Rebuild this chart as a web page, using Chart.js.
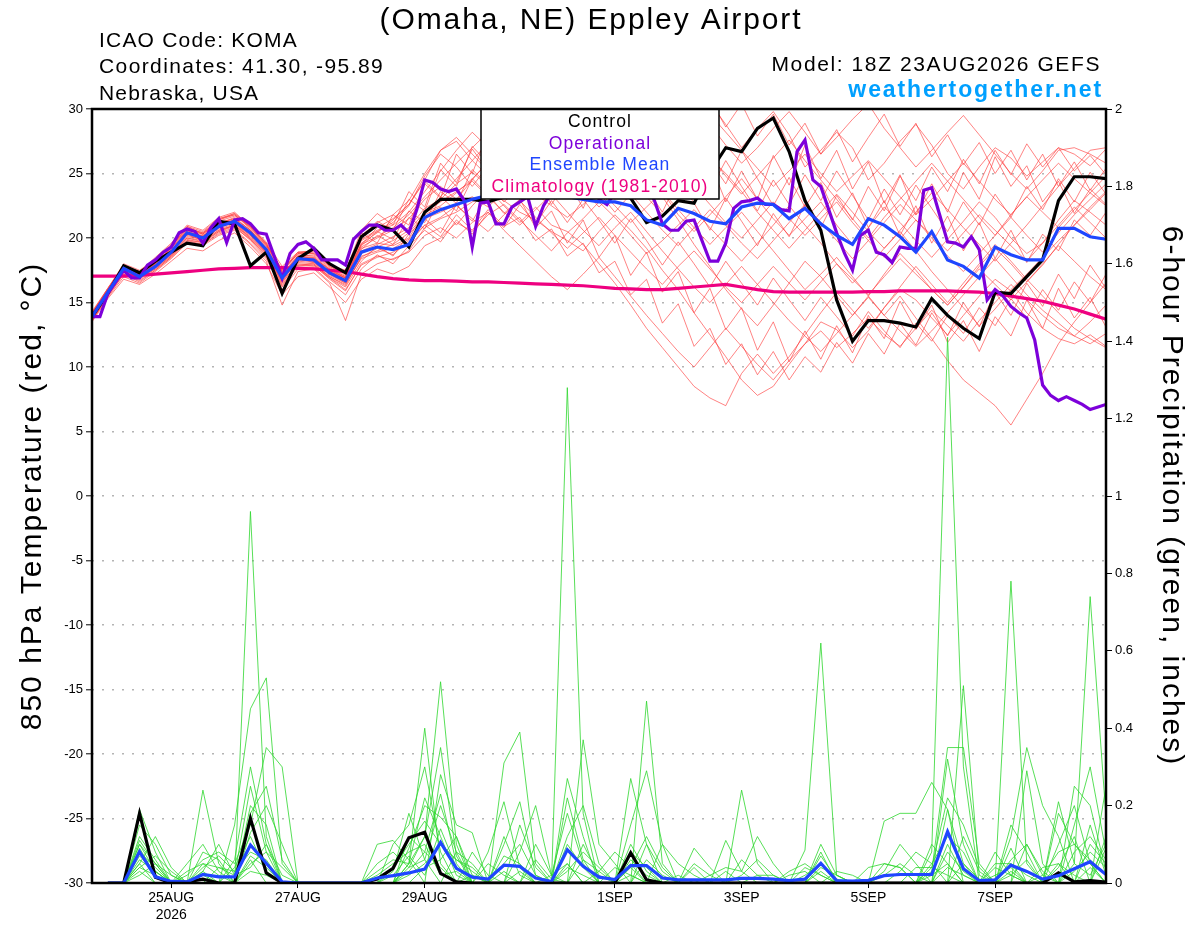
<!DOCTYPE html>
<html><head><meta charset="utf-8">
<script src="https://cdn.jsdelivr.net/npm/chart.js@4.4.1/dist/chart.umd.min.js"></script>
<style>html,body{margin:0;padding:0;background:#fff;overflow:hidden}canvas{display:block}</style>
</head><body>
<canvas id="c" width="1200" height="927" style="width:1200px;height:927px"></canvas>
<script>
// ---------- time axis (6-hourly steps from 18Z 23AUG2026) ----------
const xTickIdx = [5, 13, 21, 33, 41, 49, 57];
const xTickLabels = [['25AUG', '2026'], '27AUG', '29AUG', '1SEP', '3SEP', '5SEP', '7SEP'];

// ---------- 850 hPa temperature (°C), 6-hourly ----------
const ctlTemp = [13.9,15.7,17.85,17.3,18.2,18.9,19.6,19.4,21.3,21.1,
 17.85,18.9,15.7,18.4,19.2,18.0,17.3,20.1,21.0,20.6,
 19.3,22.0,23.0,23.0,23.0,22.8,23.2,23.8,24.5,25.5,
 24.8,24.0,24.8,24.0,23.1,21.2,21.7,22.9,22.7,25.1,
 27.0,26.7,28.5,29.3,26.7,22.9,20.6,15.2,12.0,13.6,
 13.6,13.4,13.1,15.3,14.0,13.0,12.2,15.8,15.7,17.0,
 18.3,22.9,24.75,24.75,24.6];
const meanTemp = [13.9,15.8,17.65,17.0,17.8,18.9,20.4,20.0,20.9,21.3,
 20.4,19.1,16.9,18.4,18.3,17.3,16.7,18.9,19.3,19.1,
 19.5,21.6,22.2,22.6,23.0,23.3,23.5,23.6,23.5,23.4,
 23.2,23.0,22.8,22.8,22.5,21.4,21.0,22.3,21.9,21.3,
 21.1,22.4,22.7,22.6,21.5,22.3,21.1,20.2,19.5,21.5,
 21.0,20.1,18.9,20.5,18.3,17.8,16.9,19.3,18.7,18.3,
 18.3,20.75,20.75,20.1,19.9];
const climTemp = [17.05,17.05,17.05,17.1,17.2,17.3,17.4,17.5,17.6,17.65,
 17.7,17.7,17.7,17.65,17.6,17.5,17.4,17.2,17.0,16.85,
 16.75,16.7,16.7,16.65,16.6,16.6,16.55,16.5,16.45,16.4,
 16.35,16.3,16.2,16.1,16.05,16.0,16.0,16.1,16.2,16.3,
 16.4,16.2,16.0,15.85,15.8,15.8,15.8,15.8,15.8,15.85,
 15.85,15.9,15.9,15.9,15.9,15.85,15.8,15.7,15.5,15.3,
 15.1,14.8,14.5,14.1,13.7];
// operational run, 3-hourly
const opTemp3h = [13.9,13.9,15.7,16.6,17.5,16.9,16.9,17.9,18.3,18.9,
 19.3,20.4,20.7,20.5,19.6,20.8,21.5,19.65,21.4,21.5,
 21.1,20.4,20.3,18.6,16.9,18.8,19.5,19.7,19.2,18.3,
 18.3,18.3,17.9,19.9,20.5,21.0,21.0,20.6,20.6,21.0,
 20.4,22.2,24.5,24.3,23.8,23.6,23.8,22.9,19.3,22.7,
 22.8,21.1,21.1,22.4,22.8,23.2,20.9,22.5,23.5,24.0,
 24.5,25.0,25.5,25.0,23.0,22.6,23.5,24.5,25.0,24.5,
 24.0,22.9,21.1,20.6,20.6,21.3,21.4,19.8,18.2,18.2,
 19.6,22.3,22.8,22.9,23.1,22.6,22.6,22.2,22.1,26.7,
 27.6,24.5,24.0,22.2,20.4,18.8,17.5,20.2,20.6,18.9,
 18.7,18.1,19.3,19.2,19.2,23.7,23.9,21.8,19.7,19.6,
 19.3,20.1,19.1,15.2,16.0,15.5,14.7,14.2,13.8,12.1,
 8.6,7.8,7.4,7.7,7.4,7.1,6.7,6.9,7.1];

// ensemble members (temperature)
const ensTemp01 = [14.2,16.0,17.9,17.4,18.5,19.6,21.0,20.6,21.6,22.0,20.9,19.5,17.5,18.9,19.0,18.0,17.2,
 19.5,20.8,21.5,22.6,24.5,26.8,27.5,26.0,24.8,25.9,27.2,28.5,29.6,
 28.0,26.5,27.8,29.5,30.5,28.2,26.0,27.5,29.0,30.5,28.8,27.0,28.5,29.8,28.0,
 25.5,26.8,28.2,27.0,24.5,25.8,27.5,28.8,27.2,25.0,23.8,25.5,27.0,26.2,24.8,25.9,27.0,26.5,25.6,26.9];
const ensTemp02 = [13.6,15.5,17.2,16.6,17.5,18.5,19.8,19.5,20.4,20.8,19.9,18.6,16.2,17.8,17.9,16.8,15.9,
 18.0,18.6,18.3,19.0,20.8,21.5,22.0,22.8,23.5,22.9,22.0,21.4,20.5,
 19.8,19.0,20.5,21.8,20.6,19.2,17.5,16.0,14.2,12.5,10.8,9.0,7.8,8.5,10.2,
 11.8,13.5,12.9,11.5,12.8,14.6,16.0,15.2,13.8,12.5,14.0,15.5,16.8,15.9,14.2,13.0,12.2,11.8,12.5,11.6];
const ensTemp03 = [14.0,15.9,17.7,17.1,18.0,19.0,20.5,20.1,21.0,21.4,20.5,19.2,17.1,18.5,18.5,17.5,16.9,
 19.2,19.6,19.4,20.0,22.0,22.5,23.5,24.6,25.8,24.2,23.0,23.8,24.9,
 26.0,25.1,23.5,22.0,23.4,24.8,23.6,21.8,20.5,21.8,23.2,24.6,23.0,21.5,20.2,
 21.5,22.8,21.0,19.5,20.8,22.4,21.2,19.8,18.5,19.9,21.3,22.8,21.6,20.0,18.8,19.6,21.4,22.9,22.0,21.0];
const ensTemp04 = [13.8,15.7,17.8,17.3,18.2,19.3,20.9,20.5,21.5,21.8,20.8,19.4,17.6,18.7,18.6,17.6,17.0,
 19.8,20.5,21.2,22.5,24.8,26.5,25.5,24.0,25.6,27.2,28.6,30.2,30.8,
 30.4,29.2,30.6,28.5,26.8,25.0,23.2,21.4,19.5,17.8,16.0,14.5,13.2,14.8,16.5,
 18.2,17.0,15.5,14.0,15.5,17.2,18.8,17.5,16.0,14.8,16.2,17.8,19.2,18.0,16.6,17.9,19.5,21.0,22.4,23.6];
const ensTemp05 = [13.5,15.3,16.8,16.4,17.2,18.2,19.2,19.0,19.8,20.4,19.3,18.0,15.6,17.0,17.3,16.2,15.0,
 16.8,17.6,17.2,17.8,19.4,20.0,21.2,20.5,21.8,22.6,21.4,20.2,19.0,
 20.4,21.5,22.8,21.6,20.2,18.8,19.8,21.0,22.2,20.8,19.5,18.2,19.6,21.0,22.5,
 21.0,19.6,18.0,16.5,17.8,19.2,20.5,19.0,17.4,16.0,14.6,13.2,14.5,16.0,17.2,18.5,19.8,21.0,22.2,23.5];
const ensTemp06 = [14.1,16.0,17.6,17.2,17.9,19.0,20.3,20.2,20.9,21.2,20.0,18.8,16.5,18.1,18.0,17.0,16.3,
 18.6,19.0,19.5,20.4,21.8,22.4,21.0,22.5,23.8,22.5,21.2,22.4,21.0,
 20.5,19.5,18.0,16.5,14.8,13.0,11.5,10.0,8.5,7.6,7.0,9.5,11.0,9.5,10.8,
 12.5,14.2,15.8,14.4,13.0,14.6,16.2,17.8,16.4,15.0,16.5,18.0,19.5,18.2,16.8,15.5,14.2,13.0,12.2,11.5];
const ensTemp07 = [14.3,16.1,18.0,17.5,18.3,19.4,20.7,20.3,21.3,21.7,20.9,19.7,17.8,18.9,19.0,17.9,17.5,
 20.2,21.2,21.8,22.9,25.0,26.8,27.8,26.5,25.2,26.5,27.9,26.8,25.5,
 24.0,25.5,27.0,28.2,26.9,25.2,26.8,28.5,30.3,28.8,27.2,25.8,27.0,28.5,29.8,
 28.2,26.5,27.8,29.2,30.4,28.5,27.0,25.5,26.8,28.2,29.5,28.0,26.5,25.0,23.8,25.2,26.8,27.0,26.5,25.8];
const ensTemp08 = [13.7,15.6,17.4,16.9,17.7,18.7,20.0,19.7,20.6,21.0,20.1,18.9,16.7,18.2,18.1,17.1,16.5,
 18.4,18.9,19.2,19.9,21.5,22.0,22.6,23.2,22.4,23.6,24.5,23.4,22.5,
 21.6,22.6,23.8,22.5,21.2,22.4,23.6,22.2,20.8,19.5,20.8,22.0,20.5,19.0,17.5,
 16.0,17.2,18.5,17.0,15.5,14.0,15.5,13.8,12.2,10.5,9.0,8.0,7.0,5.5,7.5,9.5,11.8,13.5,15.0,16.5];
const ensTemp09 = [13.9,15.8,17.5,17.0,17.8,18.8,20.1,19.9,20.7,21.1,20.2,19.1,17.0,18.4,18.2,17.2,16.8,
 19.0,19.5,20.1,20.8,22.3,23.0,24.2,25.1,24.0,22.8,23.9,25.0,26.2,
 25.0,23.8,22.4,23.6,24.8,23.2,21.8,22.9,24.0,22.6,21.2,20.0,21.4,22.8,21.5,
 20.2,21.5,22.8,21.2,19.8,18.5,19.9,21.4,20.0,18.6,17.4,18.8,20.2,21.6,20.2,18.9,20.4,21.8,23.0,24.2];
const ensTemp10 = [14.0,16.0,17.9,17.3,18.4,19.4,20.8,20.4,21.4,21.9,20.9,19.6,17.4,18.8,18.9,17.8,17.3,
 19.9,20.6,21.0,22.0,23.6,25.2,26.8,28.2,27.0,25.8,27.0,28.4,29.6,
 28.4,27.0,25.5,26.8,28.0,26.6,25.0,23.5,24.8,26.2,25.0,23.6,22.0,20.6,19.2,
 20.6,22.0,23.4,22.0,20.5,19.2,20.6,22.0,23.5,22.2,20.8,19.5,18.2,19.6,21.0,22.5,24.0,25.4,26.8,27.0];
const ensTemp11 = [13.6,15.4,17.0,16.5,17.4,18.4,19.6,19.4,20.2,20.6,19.5,18.2,14.8,17.4,17.6,16.5,13.6,
 17.2,18.0,18.4,18.9,20.2,20.8,20.0,21.2,22.0,20.6,19.4,18.2,17.0,
 16.0,17.2,18.5,17.0,15.5,14.0,12.6,11.2,10.0,11.5,13.0,11.6,10.2,9.0,10.5,
 11.8,12.8,11.5,12.6,13.8,12.5,11.6,13.0,14.4,13.2,12.0,13.6,15.0,16.4,15.2,14.0,13.0,12.4,13.5,14.8];
const ensTemp12 = [14.1,16.1,17.8,17.4,18.1,19.2,20.6,20.3,21.2,21.5,20.6,19.3,17.2,18.6,18.7,17.7,17.0,
 19.5,20.1,20.8,21.8,23.2,24.5,25.8,27.0,28.2,29.5,28.0,26.5,25.2,
 26.5,27.8,29.0,30.4,28.5,27.0,25.6,27.0,28.4,29.6,28.2,26.8,25.4,24.0,25.2,
 26.5,25.0,23.6,24.8,26.0,24.6,23.2,21.8,23.0,24.4,25.8,24.4,23.0,21.8,23.2,24.5,25.8,24.6,23.5,22.5];
const ensTemp13 = [13.8,15.6,17.3,16.8,17.6,18.6,19.9,19.6,20.5,20.9,19.8,18.5,16.3,17.9,17.8,16.9,16.0,
 17.9,18.5,18.9,19.6,21.0,21.6,22.5,21.5,20.5,21.8,22.9,21.6,20.4,
 19.2,20.4,21.6,20.2,18.9,17.6,16.4,17.8,19.0,17.6,16.2,15.0,16.4,17.8,16.5,
 15.2,16.6,18.0,16.8,15.6,17.0,18.4,17.2,16.0,14.8,16.2,17.6,16.4,15.2,16.6,18.0,19.4,18.2,17.0,16.0];
const ensTemp14 = [14.2,15.9,17.7,17.2,18.2,19.1,20.5,20.1,21.1,21.5,20.6,19.4,17.3,18.6,18.5,17.5,16.9,
 19.3,20.0,20.6,21.5,23.0,24.0,23.0,24.5,26.0,27.5,26.2,24.8,26.4,
 28.0,29.5,28.0,26.5,25.0,26.5,28.0,29.5,28.0,26.4,24.8,23.4,24.8,26.2,27.6,
 26.0,24.5,23.0,21.5,20.0,21.6,23.0,24.4,25.8,24.4,23.0,21.6,20.2,21.8,23.2,22.0,20.8,22.2,23.5,24.8];
const ensTemp15 = [13.7,15.7,17.6,17.1,17.8,18.9,20.2,19.9,20.8,21.2,20.2,18.9,16.8,18.3,18.2,17.2,16.6,
 18.8,19.3,19.8,20.6,22.0,22.8,23.6,24.4,23.2,22.0,21.0,22.2,23.4,
 22.0,20.6,19.4,20.8,22.0,20.5,19.0,17.6,16.2,15.0,16.4,17.8,16.4,15.0,13.6,
 12.4,11.2,12.6,14.0,15.4,14.0,12.8,11.6,12.8,14.2,15.6,17.0,18.4,17.0,15.6,14.4,13.4,12.4,11.8,12.6];
const ensTemp16 = [14.0,15.9,17.8,17.3,18.0,19.1,20.4,20.2,21.0,21.4,20.4,19.0,17.0,18.4,18.4,17.4,16.8,
 19.6,20.4,21.4,22.6,24.4,23.2,24.6,26.0,27.4,26.0,24.6,23.2,24.6,
 23.2,24.8,26.2,24.8,23.4,22.0,20.6,19.4,20.8,22.2,21.0,19.6,18.4,19.8,21.2,
 22.6,21.2,19.8,18.4,19.8,21.2,22.6,21.4,20.2,19.0,20.4,21.8,20.6,19.4,18.2,19.6,21.0,22.4,21.2,20.0];
const ensTemp17 = [13.9,15.9,17.6,17.2,18.1,19.2,20.6,20.0,21.1,21.6,20.6,19.2,17.1,18.6,18.4,17.6,16.9,
 20.4,19.6,21.8,21.0,24.2,23.1,26.5,25.0,28.2,26.6,29.4,27.8,30.3,
 27.5,29.8,26.8,28.9,25.6,27.8,24.5,26.9,23.6,25.9,22.8,25.2,23.0,26.4,24.1,
 27.2,24.6,26.8,23.8,25.9,22.7,24.9,21.8,24.2,22.0,25.1,23.0,26.3,24.0,25.6,22.8,24.4,21.9,23.8,22.6];
const ensTemp18 = [13.7,15.6,17.5,16.9,17.6,18.6,19.8,19.7,20.5,21.0,19.9,18.7,16.4,17.9,18.0,16.9,16.2,
 18.2,19.4,18.6,20.3,21.5,20.4,22.6,21.3,23.4,21.9,23.0,20.8,22.1,
 19.6,21.4,18.5,20.2,17.1,18.9,15.8,17.4,14.2,16.1,12.9,14.6,11.3,13.5,10.4,
 12.8,10.6,13.2,11.1,14.0,12.2,15.1,12.9,14.8,11.9,13.6,11.2,13.9,12.4,15.2,13.0,16.1,13.8,15.4,13.1];
const ensTemp19 = [14.0,15.8,17.7,17.0,18.0,18.9,20.3,19.8,20.8,21.3,20.3,19.0,16.6,18.4,18.1,17.2,16.5,
 19.1,20.2,19.5,21.6,20.7,23.2,22.1,24.6,23.3,25.4,23.8,24.9,22.6,
 24.5,22.3,25.1,23.0,26.2,24.1,27.5,25.3,28.6,26.0,24.2,26.8,24.6,22.5,24.7,
 22.4,24.3,21.6,23.5,20.8,22.9,20.2,22.5,19.6,21.7,19.0,21.2,18.4,20.6,18.1,20.3,19.0,21.4,20.2,22.0];
const ensTemp20 = [14.1,16.0,17.8,17.4,18.3,19.3,20.7,20.4,21.4,21.8,20.7,19.5,17.4,18.8,18.8,17.8,17.1,
 20.0,21.3,20.6,23.0,22.1,25.3,24.0,27.1,25.8,28.6,27.0,30.1,28.4,
 30.5,28.8,31.0,29.1,30.6,28.0,29.9,27.4,29.5,30.8,28.6,30.4,27.9,29.6,27.2,
 28.9,26.5,28.4,25.9,27.8,29.6,27.1,28.9,26.3,28.0,25.7,27.4,25.0,26.8,24.5,26.5,24.0,25.9,23.7,25.4];
const ensTemp21 = [13.8,15.7,17.4,16.9,17.7,18.7,20.0,19.8,20.6,21.0,20.0,18.8,16.6,18.0,17.9,17.0,16.4,
 18.5,19.2,18.7,19.8,21.0,20.1,21.8,20.6,22.2,20.9,21.6,19.8,20.7,
 18.6,19.6,17.3,18.2,15.6,16.8,13.4,14.9,11.6,13.0,10.2,11.8,9.4,11.2,9.0,
 10.8,9.6,11.9,10.3,12.6,11.0,13.4,11.7,14.2,12.4,15.0,13.1,15.8,14.0,16.5,14.7,17.2,15.3,17.9,16.1];
const ensTemp22 = [14.2,16.1,17.9,17.3,18.4,19.5,20.9,20.3,21.5,21.9,20.8,19.6,17.5,18.9,18.8,17.9,17.4,
 20.6,21.9,21.0,23.6,22.4,25.8,24.3,26.9,25.2,27.6,26.1,28.3,26.7,
 25.1,27.3,25.6,23.4,25.8,23.9,22.0,24.6,22.7,20.6,23.1,21.3,19.4,21.9,20.1,
 22.6,20.8,23.3,21.4,24.0,22.1,24.8,22.9,25.5,23.6,26.1,24.2,26.8,24.9,27.3,25.5,27.0,25.2,26.4,24.9];
const ensTemp23 = [13.6,15.5,17.2,16.7,17.5,18.5,19.7,19.5,20.3,20.7,19.6,18.4,16.0,17.6,17.7,16.6,15.6,
 17.6,18.7,18.0,19.4,20.6,19.7,21.4,20.3,22.0,20.8,22.6,21.1,22.9,
 21.2,23.0,21.4,19.6,21.5,19.8,17.9,19.7,18.0,16.2,18.2,16.5,14.8,16.9,15.2,
 13.6,15.4,13.9,12.4,14.3,12.8,11.5,13.4,12.0,14.0,12.6,14.6,13.2,15.3,13.8,16.0,14.4,16.6,15.0,17.2];
const ensTemp24 = [14.0,15.9,17.6,17.1,18.0,19.0,20.4,20.1,21.0,21.4,20.4,19.1,16.9,18.3,18.3,17.4,16.9,
 19.4,20.5,19.9,22.1,21.2,23.6,22.7,25.3,24.1,26.4,25.0,27.3,25.8,
 27.9,26.2,28.4,26.5,29.0,27.1,25.2,27.6,25.6,23.7,26.0,24.0,22.1,24.5,22.6,
 24.9,22.9,25.2,23.3,21.4,23.8,21.8,24.1,22.3,20.5,22.8,21.0,23.4,21.6,24.0,22.2,24.6,22.8,25.1,23.4];

// ---------- 6-hour precipitation (inches); no value at the analysis time ----------
const ctlPrecip = [null,0,0,0.18,0.015,0,0.003,0.01,0,0,
 0.167,0.026,0,0,0,0,0,0,0.01,0.038,
 0.117,0.131,0.025,0.003,0,0,0,0,0,0,
 0,0,0,0,0.078,0.008,0,0,0,0,
 0,0,0,0,0,0,0,0,0,0,
 0,0,0,0,0,0,0,0,0,0,
 0,0.026,0.003,0.006,0.002];
const meanPrecip = [null,0,0,0.081,0.016,0.004,0.003,0.022,0.016,0.016,
 0.098,0.051,0.003,0,0,0,0,0,0.013,0.019,
 0.026,0.036,0.105,0.038,0.015,0.01,0.046,0.043,0.013,0.004,
 0.086,0.043,0.015,0.009,0.045,0.045,0.013,0.008,0.008,0.008,
 0.008,0.012,0.012,0.01,0.006,0.01,0.051,0.006,0.005,0.007,
 0.019,0.022,0.022,0.022,0.133,0.037,0.006,0.008,0.046,0.03,
 0.01,0.019,0.037,0.055,0.022];
// ensemble members (precipitation): [step, inches]; all other steps are 0
const ensPrecip01 = [[3,0.19],[4,0.08],[10,0.96],[11,0.12],[20,0.05],[21,0.12],[22,0.52],[23,0.1],[30,0.05],[34,0.02],[41,0.24],[42,0.05],[53,0.08],[54,1.41],[55,0.3],[58,0.09],[63,0.15],[64,0.02]];
const ensPrecip02 = [[3,0.15],[4,0.1],[5,0.02],[9,0.15],[10,0.45],[11,0.53],[12,0.05],[19,0.1],[20,0.15],[21,0.3],[22,0.08],[26,0.31],[27,0.39],[28,0.05],[35,0.47],[36,0.05],[46,0.1],[47,0.02],[55,0.51],[56,0.02],[61,0.21],[62,0.05],[63,0.74],[64,0.17]];
const ensPrecip03 = [[3,0.12],[4,0.06],[7,0.24],[8,0.05],[10,0.2],[11,0.15],[18,0.1],[19,0.11],[20,0.06],[22,0.28],[23,0.15],[24,0.13],[30,1.28],[31,0.18],[34,0.27],[35,0.1],[45,0.085],[46,0.62],[47,0.02],[54,0.32],[55,0.1],[58,0.78],[59,0.05]];
const ensPrecip04 = [[3,0.1],[4,0.05],[6,0.02],[7,0.06],[8,0.08],[9,0.05],[10,0.15],[11,0.35],[12,0.3],[20,0.09],[21,0.2],[22,0.17],[23,0.12],[26,0.1],[27,0.21],[28,0.02],[31,0.37],[32,0.1],[33,0.05],[50,0.16],[51,0.18],[52,0.18],[53,0.26],[54,0.19],[59,0.29],[60,0.05],[62,0.25],[63,0.2],[64,0.03]];
const ensPrecip05 = [[3,0.08],[4,0.04],[7,0.08],[8,0.06],[10,0.13],[11,0.2],[12,0.1],[19,0.04],[20,0.1],[21,0.16],[22,0.1],[23,0.06],[24,0.03],[30,0.27],[31,0.12],[34,0.15],[35,0.29],[36,0.1],[38,0.09],[39,0.04],[53,0.03],[54,0.35],[55,0.35],[56,0.05],[58,0.12],[59,0.35],[60,0.2],[61,0.12],[64,0.25]];
const ensPrecip06 = [[3,0.06],[4,0.03],[6,0.03],[7,0.05],[8,0.04],[9,0.03],[10,0.08],[11,0.06],[20,0.03],[21,0.08],[22,0.23],[23,0.05],[25,0.08],[26,0.21],[27,0.04],[30,0.22],[31,0.06],[40,0.11],[41,0.03],[42,0.12],[43,0.05],[50,0.05],[51,0.04],[54,0.19],[55,0.05],[57,0.05],[58,0.05],[61,0.18],[62,0.1],[63,0.05]];
const ensPrecip07 = [[3,0.05],[7,0.04],[8,0.07],[9,0.03],[10,0.1],[11,0.05],[18,0.03],[19,0.06],[20,0.05],[21,0.4],[22,0.05],[24,0.02],[27,0.08],[28,0.2],[29,0.02],[32,0.03],[33,0.08],[34,0.04],[44,0.03],[45,0.05],[46,0.02],[52,0.04],[53,0.04],[54,0.02],[57,0.08],[58,0.02],[62,0.15],[63,0.3],[64,0.08]];
const ensPrecip08 = [[3,0.04],[4,0.02],[10,0.05],[11,0.08],[12,0.04],[20,0.02],[21,0.05],[22,0.1],[23,0.06],[24,0.04],[30,0.1],[31,0.04],[36,0.1],[37,0.05],[38,0.02],[46,0.04],[47,0.02],[49,0.04],[50,0.05],[51,0.04],[54,0.04],[55,0.02],[60,0.02],[61,0.08],[62,0.1],[63,0.06],[64,0.02]];
const ensPrecip09 = [[3,0.03],[6,0.05],[7,0.1],[8,0.03],[10,0.06],[18,0.05],[19,0.08],[20,0.04],[21,0.06],[22,0.2],[23,0.08],[27,0.03],[29,0.02],[30,0.05],[34,0.06],[35,0.02],[39,0.02],[40,0.04],[41,0.03],[45,0.02],[46,0.05],[53,0.05],[54,0.12],[55,0.08],[58,0.05],[59,0.02],[63,0.1],[64,0.05]];
const ensPrecip10 = [[3,0.02],[4,0.05],[5,0.02],[7,0.03],[8,0.1],[9,0.02],[10,0.04],[11,0.1],[12,0.02],[21,0.04],[22,0.06],[23,0.12],[24,0.02],[26,0.05],[27,0.1],[28,0.02],[31,0.1],[32,0.02],[35,0.06],[36,0.02],[42,0.02],[43,0.02],[50,0.02],[51,0.05],[52,0.02],[55,0.05],[56,0.01],[59,0.1],[60,0.02],[62,0.05],[63,0.02],[64,0.1]];
const ensPrecip11 = [[3,0.09],[4,0.02],[10,0.03],[11,0.02],[19,0.02],[20,0.07],[21,0.02],[22,0.14],[23,0.04],[26,0.03],[30,0.04],[31,0.02],[34,0.08],[35,0.04],[41,0.06],[42,0.02],[46,0.03],[54,0.08],[55,0.03],[58,0.03],[61,0.05],[62,0.02],[64,0.12]];
const ensPrecip12 = [[3,0.07],[4,0.03],[7,0.02],[10,0.07],[11,0.04],[20,0.12],[21,0.08],[22,0.04],[24,0.08],[25,0.02],[28,0.06],[29,0.01],[33,0.04],[34,0.02],[38,0.05],[39,0.02],[47,0.03],[48,0.02],[53,0.1],[54,0.05],[57,0.04],[58,0.02],[60,0.04],[61,0.05],[63,0.04]];
const ensPrecip13 = [[3,0.04],[4,0.07],[5,0.03],[8,0.04],[9,0.02],[10,0.25],[11,0.08],[18,0.02],[19,0.05],[20,0.08],[21,0.1],[22,0.02],[23,0.03],[26,0.12],[27,0.02],[30,0.03],[31,0.08],[32,0.04],[35,0.1],[36,0.03],[44,0.02],[45,0.03],[50,0.03],[51,0.1],[52,0.05],[54,0.1],[55,0.02],[58,0.06],[59,0.1],[60,0.03],[62,0.03],[63,0.08],[64,0.04]];
const ensPrecip14 = [[3,0.1],[4,0.03],[7,0.03],[9,0.04],[10,0.12],[11,0.03],[20,0.05],[21,0.22],[22,0.12],[23,0.02],[25,0.05],[26,0.02],[28,0.1],[29,0.02],[30,0.18],[31,0.05],[34,0.1],[35,0.03],[37,0.02],[40,0.03],[46,0.07],[47,0.01],[53,0.02],[54,0.05],[57,0.02],[58,0.04],[61,0.1],[62,0.2],[63,0.05]];
const ensPrecip15 = [[3,0.05],[4,0.12],[5,0.04],[9,0.06],[10,0.3],[11,0.1],[19,0.03],[20,0.18],[21,0.06],[23,0.08],[24,0.05],[27,0.15],[28,0.04],[31,0.06],[32,0.03],[34,0.04],[35,0.12],[36,0.04],[45,0.04],[46,0.02],[51,0.03],[52,0.08],[53,0.05],[55,0.12],[56,0.03],[58,0.02],[59,0.06],[62,0.08],[63,0.12],[64,0.06]];
const ensPrecip16 = [[3,0.11],[4,0.05],[7,0.05],[8,0.02],[10,0.18],[11,0.25],[12,0.06],[20,0.04],[21,0.12],[22,0.35],[23,0.07],[26,0.07],[27,0.05],[30,0.12],[31,0.2],[32,0.05],[34,0.05],[38,0.04],[41,0.02],[42,0.06],[43,0.02],[46,0.08],[53,0.04],[54,0.22],[55,0.15],[56,0.04],[58,0.15],[59,0.08],[61,0.04],[62,0.12],[64,0.09]];

// ---------- build datasets ----------
const ensTempList = [ensTemp01,ensTemp02,ensTemp03,ensTemp04,ensTemp05,ensTemp06,ensTemp07,ensTemp08,
  ensTemp09,ensTemp10,ensTemp11,ensTemp12,ensTemp13,ensTemp14,ensTemp15,ensTemp16,
  ensTemp17,ensTemp18,ensTemp19,ensTemp20,ensTemp21,ensTemp22,ensTemp23,ensTemp24];
const ensPrecipList = [ensPrecip01,ensPrecip02,ensPrecip03,ensPrecip04,ensPrecip05,ensPrecip06,ensPrecip07,
  ensPrecip08,ensPrecip09,ensPrecip10,ensPrecip11,ensPrecip12,ensPrecip13,ensPrecip14,ensPrecip15,ensPrecip16];
const NSTEPS = ctlTemp.length;

const xy = (arr, step) => arr.map((v, i) => ({x: i * step, y: v}));
function expandPrecip(pairs) {
  const a = [null];
  for (let i = 1; i < NSTEPS; i++) a.push(0);
  pairs.forEach(([i, v]) => { a[i] = v; });
  return a;
}

const FONT = "'Liberation Sans', Arial, Helvetica, sans-serif";
const C_BLACK = '#000000', C_PURPLE = '#7d00da', C_BLUE = '#1f46ff', C_PINK = '#ee0080';
const C_RED = 'rgba(255,60,60,0.8)', C_GREEN = 'rgb(45,215,45)';

const base = {pointRadius: 0, pointHoverRadius: 0, tension: 0, fill: false, borderJoinStyle: 'miter'};
const datasets = [];
datasets.push(Object.assign({}, base, {label: 'Ensemble Mean', data: xy(meanTemp, 1), yAxisID: 'y', borderColor: C_BLUE, borderWidth: 3.2, order: 0}));
datasets.push(Object.assign({}, base, {label: 'Operational', data: xy(opTemp3h, 0.5), yAxisID: 'y', borderColor: C_PURPLE, borderWidth: 3.2, order: 1}));
datasets.push(Object.assign({}, base, {label: 'Control', data: xy(ctlTemp, 1), yAxisID: 'y', borderColor: C_BLACK, borderWidth: 3.2, order: 2}));
datasets.push(Object.assign({}, base, {label: 'Climatology', data: xy(climTemp, 1), yAxisID: 'y', borderColor: C_PINK, borderWidth: 3.2, order: 3}));
datasets.push(Object.assign({}, base, {label: 'Mean precip', data: xy(meanPrecip, 1), yAxisID: 'yP', borderColor: C_BLUE, borderWidth: 3.2, order: 4}));
datasets.push(Object.assign({}, base, {label: 'Control precip', data: xy(ctlPrecip, 1), yAxisID: 'yP', borderColor: C_BLACK, borderWidth: 3.2, order: 5}));
ensPrecipList.forEach((p, k) => datasets.push(Object.assign({}, base, {
  label: 'p' + k, data: xy(expandPrecip(p), 1), yAxisID: 'yP', borderColor: C_GREEN, borderWidth: 0.8, order: 10 + k})));
ensTempList.forEach((t, k) => datasets.push(Object.assign({}, base, {
  label: 't' + k, data: xy(t, 1), yAxisID: 'y', borderColor: C_RED, borderWidth: 0.8, order: 40 + k})));

function txt(ctx, s, x, y, size, color, align, weight, ls) {
  ctx.font = (weight || 'normal') + ' ' + size + 'px ' + FONT;
  ctx.fillStyle = color;
  ctx.textAlign = align;
  ctx.textBaseline = 'alphabetic';
  try { ctx.letterSpacing = (ls || 0) + 'px'; } catch (e) {}
  ctx.fillText(s, x, y);
  try { ctx.letterSpacing = '0px'; } catch (e) {}
}

const decor = {
  id: 'decor',
  afterDatasetsDraw(chart) {
    const {ctx, chartArea: a} = chart;
    ctx.save();
    // legend box
    ctx.fillStyle = '#fff';
    ctx.fillRect(481, a.top, 238, 90);
    ctx.strokeStyle = '#000';
    ctx.lineWidth = 1.5;
    ctx.strokeRect(481, a.top, 238, 90);
    txt(ctx, 'Control', 600, 127, 17.5, C_BLACK, 'center', 'normal', 1.1);
    txt(ctx, 'Operational', 600, 148.5, 17.5, C_PURPLE, 'center', 'normal', 1.1);
    txt(ctx, 'Ensemble Mean', 600, 170, 17.5, C_BLUE, 'center', 'normal', 1.1);
    txt(ctx, 'Climatology (1981-2010)', 600, 191.5, 17.5, C_PINK, 'center', 'normal', 1.1);
    // frame
    ctx.strokeStyle = '#000';
    ctx.lineWidth = 2.5;
    ctx.strokeRect(a.left, a.top, a.right - a.left, a.bottom - a.top);
    ctx.restore();
  },
  afterDraw(chart) {
    const {ctx, chartArea: a} = chart;
    ctx.save();
    txt(ctx, '(Omaha, NE) Eppley Airport', 591, 29, 30, '#000', 'center', 'normal', 1.9);
    txt(ctx, 'ICAO Code: KOMA', 99, 47, 21, '#000', 'left', 'normal', 1.2);
    txt(ctx, 'Coordinates: 41.30, -95.89', 99, 73, 21, '#000', 'left', 'normal', 1.4);
    txt(ctx, 'Nebraska, USA', 99, 100, 21, '#000', 'left', 'normal', 1.2);
    txt(ctx, 'Model: 18Z 23AUG2026 GEFS', 1101, 71, 21, '#000', 'right', 'normal', 1.6);
    txt(ctx, 'weathertogether.net', 1103, 97, 23, '#00a0ff', 'right', 'bold', 1.9);
    const midY = (a.top + a.bottom) / 2;
    // left axis title
    ctx.save();
    ctx.translate(33, midY);
    ctx.rotate(-Math.PI / 2);
    ctx.font = '30px ' + FONT;
    ctx.fillStyle = '#000';
    ctx.textAlign = 'center';
    ctx.textBaseline = 'middle';
    try { ctx.letterSpacing = '2px'; } catch (e) {}
    ctx.fillText('850 hPa Temperature (red, \u00B0C)', 0, 0);
    ctx.restore();
    // right axis title
    ctx.save();
    ctx.translate(1171, midY);
    ctx.rotate(Math.PI / 2);
    ctx.font = '30px ' + FONT;
    ctx.fillStyle = '#000';
    ctx.textAlign = 'center';
    ctx.textBaseline = 'middle';
    try { ctx.letterSpacing = '2px'; } catch (e) {}
    ctx.fillText('6-hour Precipitation (green, inches)', 0, 0);
    ctx.restore();
    ctx.restore();
  }
};

new Chart(document.getElementById('c'), {
  type: 'line',
  data: {datasets},
  plugins: [decor],
  options: {
    responsive: false,
    animation: false,
    devicePixelRatio: 1,
    events: [],
    layout: {padding: {top: 109, left: 0, right: 0, bottom: 0}},
    plugins: {legend: {display: false}, tooltip: {enabled: false}, title: {display: false}},
    scales: {
      x: {
        type: 'linear', position: 'bottom', min: 0, max: NSTEPS - 1,
        afterBuildTicks: (s) => { s.ticks = xTickIdx.map(v => ({value: v})); },
        afterFit: (s) => { s.height = 44; },
        grid: {drawOnChartArea: false, drawTicks: true, tickLength: 5, tickColor: '#000', tickWidth: 1},
        border: {display: false},
        ticks: {
          autoSkip: false, maxRotation: 0, minRotation: 0, padding: 2, color: '#000',
          font: {family: FONT, size: 14, lineHeight: 1.2},
          callback: (v) => { const k = xTickIdx.indexOf(v); return k >= 0 ? xTickLabels[k] : ''; }
        }
      },
      y: {
        type: 'linear', position: 'left', min: -30, max: 30,
        afterFit: (s) => { s.width = 92; },
        ticks: {stepSize: 5, color: '#000', padding: 3, font: {family: FONT, size: 13}, callback: (v) => String(v)},
        grid: {color: '#b4b4b4', lineWidth: 1.6, drawTicks: true, tickLength: 6, tickColor: '#000', tickWidth: 1, tickBorderDash: [], borderDash: [2, 8]},
        border: {display: false, dash: [2, 8]}
      },
      yP: {
        type: 'linear', position: 'right', min: 0, max: 2,
        afterFit: (s) => { s.width = 94; },
        ticks: {stepSize: 0.2, color: '#000', padding: 3, font: {family: FONT, size: 13}, callback: (v) => String(+v.toFixed(1))},
        grid: {drawOnChartArea: false, drawTicks: true, tickLength: 6, tickColor: '#000', tickWidth: 1},
        border: {display: false}
      }
    }
  }
});
</script>
</body></html>
